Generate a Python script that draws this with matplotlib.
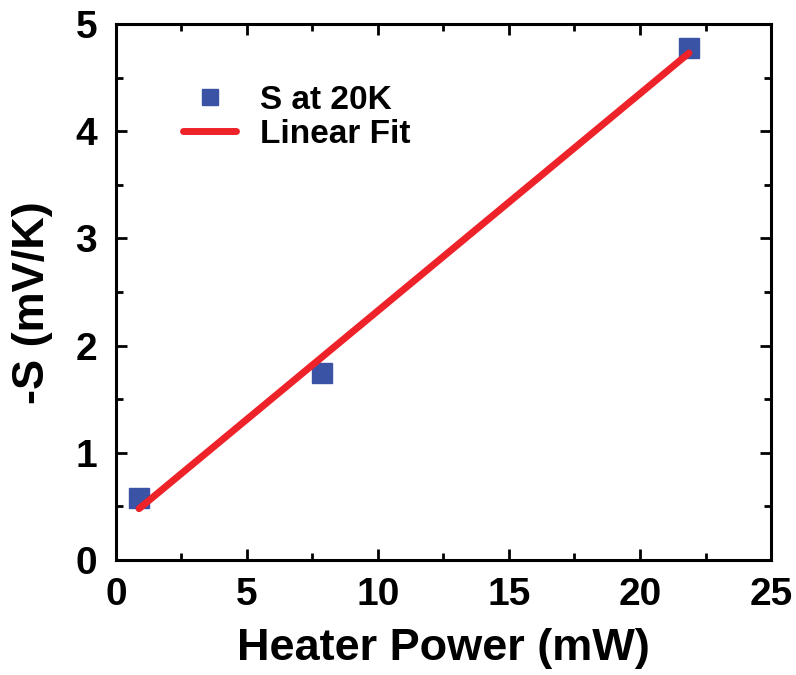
import numpy as np
import matplotlib
matplotlib.use("Agg")
import matplotlib.pyplot as plt
from matplotlib.ticker import MultipleLocator

# data
power_mw = [0.88, 7.86, 21.87]
neg_s = [0.58, 1.74, 4.78]

plt.rcParams['font.family'] = ['Liberation Sans', 'DejaVu Sans']
plt.rcParams['font.weight'] = 'bold'

fig = plt.figure(figsize=(7.96, 6.75), dpi=100)
ax = fig.add_axes([0.1457, 0.1704, 0.8229, 0.794])

# linear fit through the points
slope, intercept = np.polyfit(power_mw, neg_s, 1)
fit_x = np.array([power_mw[0], power_mw[-1]])
fit_y = slope * fit_x + intercept

ax.plot(power_mw, neg_s, 's', color='#3a53a4', markersize=14, label='S at 20K', zorder=2)
ax.plot(fit_x, fit_y, '-', color='#ee2229', linewidth=5, solid_capstyle='round',
        label='Linear Fit', zorder=3)

ax.set_xlim(0, 25)
ax.set_ylim(0, 5)
ax.xaxis.set_major_locator(MultipleLocator(5))
ax.xaxis.set_minor_locator(MultipleLocator(2.5))
ax.yaxis.set_major_locator(MultipleLocator(1))
ax.yaxis.set_minor_locator(MultipleLocator(0.5))

ax.tick_params(which='both', direction='in', top=True, right=True, width=2)
ax.tick_params(which='major', length=8)
ax.tick_params(axis='x', which='major', pad=12, labelsize=28)
ax.tick_params(axis='y', which='major', pad=13.5, labelsize=28)
ax.tick_params(which='minor', length=5)
for s in ax.spines.values():
    s.set_linewidth(2.2)

ax.set_xlabel('Heater Power (mW)', fontsize=32.5, fontweight='bold', labelpad=11)
ax.set_ylabel('-S (mV/K)', fontsize=32.5, fontweight='bold')
ax.yaxis.set_label_coords(-0.096, 0.48)

leg = ax.legend(loc='upper left', frameon=False, fontsize=24, handlelength=1.6,
                handletextpad=0.7, borderaxespad=0.0, bbox_to_anchor=(0.082, 0.912),
                labelspacing=0.1, markerscale=0.85)

fig.savefig('out.png', dpi=100)
